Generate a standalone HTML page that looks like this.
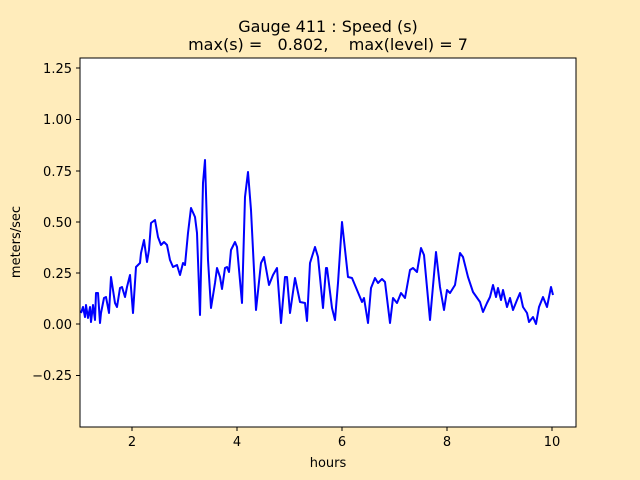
<!DOCTYPE html>
<html><head><meta charset="utf-8"><style>
html,body{margin:0;padding:0;background:#ffecbb;}
svg{display:block;font-family:"DejaVu Sans","Liberation Sans",sans-serif;}
</style></head><body>
<svg width="640" height="480" viewBox="0 0 640 480" xmlns="http://www.w3.org/2000/svg">
<rect width="640" height="480" fill="#ffecbb"/>
<rect x="80" y="58" width="496" height="369" fill="#fff"/>
<text x="328" y="32" font-size="16" text-anchor="middle">Gauge 411 : Speed (s)</text>
<text x="328" y="50" font-size="16" text-anchor="middle" xml:space="preserve">max(s) =   0.802,    max(level) = 7</text>
<polyline fill="none" stroke="#0000ff" stroke-width="2" stroke-linejoin="round" points="81,313 83,307 85,317 86,305 88,318 90,307 91,322 93,305 95,320 96,293 98,293 100,323 101,313 104,298 106,297 109,313 111,277 113,290 115,303 117,307 120,288 122,287 125,297 127,287 130,275 133,313 136,267 140,263 141,253 144,240 147,262 149,250 151,223 155,220 158,237 161,245 164,242 167,245 170,260 173,267 177,265 180,275 183,263 185,265 188,233 191,208 195,217 197,233 200,315 203,183 205,160 208,260 211,308 215,283 217,268 220,277 222,289 225,268 227,267 229,272 231,250 235,242 237,247 242,303 245,197 248,172 251,210 256,310 261,263 264,257 269,285 273,275 277,268 281,323 285,277 287,277 290,313 295,278 300,302 305,303 307,321 310,263 315,247 318,257 323,308 326,268 327,268 332,308 335,320 338,283 342,222 348,277 352,278 357,290 362,302 364,298 368,323 371,288 375,278 378,283 382,279 385,282 390,323 393,298 397,303 401,293 405,298 410,270 413,268 417,272 421,248 424,255 430,320 436,252 440,287 444,310 447,290 450,293 455,285 460,253 463,257 468,277 473,292 480,302 483,312 487,303 490,297 493,285 496,297 498,288 501,300 503,290 507,307 510,298 513,310 517,300 520,293 523,307 527,313 529,322 533,317 536,324 539,307 543,297 547,307 551,287 553,295"/>
<rect x="80" y="58" width="496" height="369" fill="none" stroke="#000" stroke-width="1"/>
<g stroke="#000" stroke-width="1">
<line x1="132" y1="427" x2="132" y2="431"/><line x1="237" y1="427" x2="237" y2="431"/><line x1="342" y1="427" x2="342" y2="431"/><line x1="447" y1="427" x2="447" y2="431"/><line x1="552" y1="427" x2="552" y2="431"/>
<line x1="76" y1="375.5" x2="80" y2="375.5"/><line x1="76" y1="324" x2="80" y2="324"/><line x1="76" y1="273" x2="80" y2="273"/><line x1="76" y1="222" x2="80" y2="222"/><line x1="76" y1="171" x2="80" y2="171"/><line x1="76" y1="119.5" x2="80" y2="119.5"/><line x1="76" y1="68" x2="80" y2="68"/>
</g>
<g font-size="13" text-anchor="middle">
<text x="132" y="446">2</text><text x="237" y="446">4</text><text x="342" y="446">6</text><text x="447" y="446">8</text><text x="552" y="446">10</text>
<text x="328" y="467">hours</text>
</g>
<g font-size="13" text-anchor="end">
<text x="72" y="380">−0.25</text><text x="72" y="329">0.00</text><text x="72" y="278">0.25</text><text x="72" y="227">0.50</text><text x="72" y="176">0.75</text><text x="72" y="124">1.00</text><text x="72" y="73">1.25</text>
</g>
<text x="20" y="242" font-size="13" text-anchor="middle" transform="rotate(-90 20 242)">meters/sec</text>
</svg>
</body></html>
